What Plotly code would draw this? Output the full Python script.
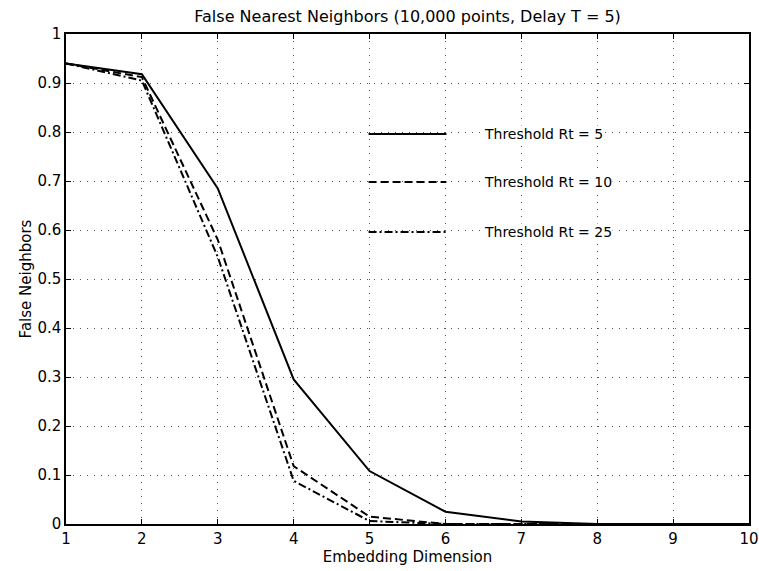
import plotly.graph_objects as go

dims = [1, 2, 3, 4, 5, 6, 7, 8, 9, 10]
rt5 = [0.94, 0.918, 0.685, 0.295, 0.108, 0.025, 0.005, 0.0, 0.0, 0.0]
rt10 = [0.94, 0.912, 0.58, 0.118, 0.015, 0.0, 0.0, 0.0, 0.0, 0.0]
rt25 = [0.94, 0.905, 0.545, 0.088, 0.006, 0.0, 0.0, 0.0, 0.0, 0.0]
names = ["Threshold Rt = 5", "Threshold Rt = 10", "Threshold Rt = 25"]
xticks = [1, 2, 3, 4, 5, 6, 7, 8, 9, 10]
yticks = [0, 0.1, 0.2, 0.3, 0.4, 0.5, 0.6, 0.7, 0.8, 0.9, 1]
ytick_labels = ["0", "0.1", "0.2", "0.3", "0.4", "0.5", "0.6", "0.7", "0.8", "0.9", "1"]

FONT = "DejaVu Sans, Liberation Sans, Arial, sans-serif"
dashes = ["solid", "8px,4px", "8px,3px,2px,3px"]
series = [rt5, rt10, rt25]

fig = go.Figure()
for name, ys, d in zip(names, series, dashes):
    fig.add_trace(go.Scatter(x=dims, y=ys, mode="lines", name=name,
                             line=dict(color="black", width=2, dash=d),
                             showlegend=False))

# manual legend (MATLAB style) in paper coords
leg_y = [0.796, 0.698, 0.596]
for name, d, yy in zip(names, dashes, leg_y):
    fig.add_shape(type="line", xref="paper", yref="paper",
                  x0=0.443, x1=0.557, y0=yy, y1=yy,
                  line=dict(color="black", width=2, dash=d))
    fig.add_annotation(xref="paper", yref="paper", x=0.611, y=yy, text=name,
                       showarrow=False, xanchor="left", yanchor="middle",
                       bgcolor="white", borderpad=0,
                       font=dict(family=FONT, size=14, color="black"))

axis_common = dict(showline=True, linecolor="black", linewidth=1.5, mirror="ticks",
                   ticks="inside", ticklen=5, tickcolor="black", tickwidth=1.2,
                   showgrid=True, gridcolor="#555", griddash="1px,6px", gridwidth=1,
                   zeroline=False, automargin=False,
                   tickfont=dict(family=FONT, size=15, color="black"))

fig.update_xaxes(range=[1, 10], tickvals=xticks, ticktext=[str(v) for v in xticks],
                 title=dict(text="Embedding Dimension", standoff=0,
                            font=dict(family=FONT, size=15, color="black")),
                 **axis_common)
fig.update_yaxes(range=[0, 1], tickvals=yticks, ticktext=ytick_labels,
                 title=dict(text="False Neighbors", standoff=2,
                            font=dict(family=FONT, size=15, color="black")),
                 **axis_common)

fig.update_layout(
    width=759, height=571,
    margin=dict(l=66, r=10, t=34, b=47),
    paper_bgcolor="white", plot_bgcolor="white",
    title=dict(text="False Nearest Neighbors (10,000 points, Delay T = 5)",
               x=0.537, xanchor="center", y=0.972, yanchor="middle",
               font=dict(family=FONT, size=16, color="black")),
)

fig.write_html("out.html")
